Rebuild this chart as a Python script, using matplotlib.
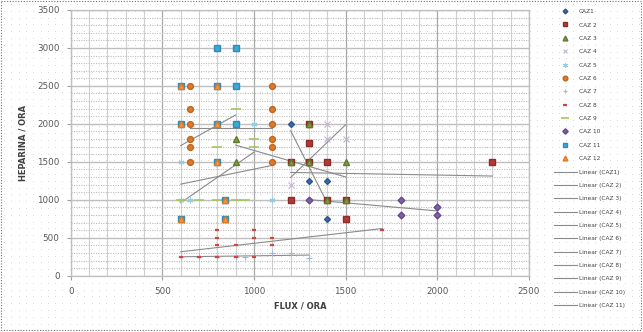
import matplotlib.pyplot as plt
import numpy as np
from matplotlib.patches import Rectangle

# FLUX / ORA vs HEPARINA / ORA for each CAZ
caz1_x = [1200, 1300, 1400, 1400]
caz1_y = [2000, 1250, 1250, 750]
caz2_x = [1200, 1200, 1300, 1300, 1300, 1400, 1400, 1500, 1500, 2300]
caz2_y = [1500, 1000, 2000, 1750, 1500, 1500, 1000, 1000, 750, 1500]
caz3_x = [900, 900, 1200, 1300, 1300, 1400, 1500, 1500]
caz3_y = [1800, 1500, 1500, 2000, 1500, 1000, 1500, 1000]
caz4_x = [1200, 1400, 1400, 1500]
caz4_y = [1200, 2000, 1800, 1800]
caz5_x = [600, 600, 650, 1000, 1100]
caz5_y = [1500, 1000, 1000, 2000, 1000]
caz6_x = [650, 650, 650, 650, 650, 650, 1100, 1100, 1100, 1100, 1100, 1100]
caz6_y = [2500, 2200, 2000, 1800, 1700, 1500, 2500, 2200, 2000, 1800, 1700, 1500]
caz7_x = [600, 700, 800, 900, 950, 1100, 1200, 1300]
caz7_y = [250, 250, 250, 250, 250, 300, 300, 230]
caz8_x = [600, 700, 800, 800, 800, 800, 900, 900, 1000, 1000, 1000, 1100, 1100, 1700]
caz8_y = [250, 250, 600, 500, 400, 250, 400, 250, 600, 500, 250, 500, 400, 600]
caz9_x = [600, 700, 800, 800, 900, 900, 950, 1000, 1000]
caz9_y = [1000, 1000, 1000, 1700, 2200, 1000, 1000, 1800, 1700]
caz10_x = [1300, 1800, 1800, 2000, 2000]
caz10_y = [1000, 1000, 800, 900, 800]
caz11_x = [600, 600, 600, 800, 800, 800, 800, 840, 840, 900, 900, 900]
caz11_y = [2500, 2000, 750, 3000, 2500, 2000, 1500, 1000, 750, 3000, 2500, 2000]
caz12_x = [600, 600, 600, 800, 800, 800, 840, 840]
caz12_y = [2500, 2000, 750, 2500, 2000, 1500, 1000, 750]

series = [
    ('CAZ1', caz1_x, caz1_y, dict(marker='D', ms=3.0, mfc='#3A6BAE', mec='#2C5488')),
    ('CAZ 2', caz2_x, caz2_y, dict(marker='s', ms=4.0, mfc='#B03A36', mec='#8E2B28')),
    ('CAZ 3', caz3_x, caz3_y, dict(marker='^', ms=4.3, mfc='#7F9F3F', mec='#5F7A2C')),
    ('CAZ 4', caz4_x, caz4_y, dict(marker='x', ms=3.8, mec='#C3B2D6', mew=0.8)),
    ('CAZ 5', caz5_x, caz5_y, dict(marker=(6, 2, 0), ms=4.2, mec='#8FD0E6', mew=0.8)),
    ('CAZ 6', caz6_x, caz6_y, dict(marker='o', ms=4.2, mfc='#E07A2A', mec='#C2661D')),
    ('CAZ 7', caz7_x, caz7_y, dict(marker='+', ms=4.0, mec='#9DB8DE', mew=0.8)),
    ('CAZ 8', caz8_x, caz8_y, dict(marker='_', ms=3.0, mec='#D0463F', mew=1.6)),
    ('CAZ 9', caz9_x, caz9_y, dict(marker='_', ms=6.5, mec='#A5C65E', mew=1.2)),
    ('CAZ 10', caz10_x, caz10_y, dict(marker='D', ms=3.4, mfc='#8064A2', mec='#64488A')),
    ('CAZ 11', caz11_x, caz11_y, dict(marker='s', ms=4.0, mfc='#3FA8D6', mec='#2E8DB8')),
    ('CAZ 12', caz12_x, caz12_y, dict(marker='^', ms=4.3, mfc='#F79646', mec='#E07A20')),
]

fig = plt.figure(figsize=(6.43, 3.32), dpi=100)
fig.patch.set_facecolor('white')

# dotted chart-area background and border
bg = fig.add_axes([0, 0, 1, 1], zorder=-5)
bg.set_xlim(0, 643)
bg.set_ylim(332, 0)
bg.axis('off')
gx, gy = np.meshgrid(np.arange(4, 643, 7.3), np.arange(4, 332, 6.8))
bg.scatter(gx.ravel(), gy.ravel(), s=0.25, c='#C4C4C4', linewidths=0)
bg.add_patch(Rectangle((1, 1), 640, 329, fill=False, ec='#707070', lw=0.8, ls=(0, (1, 1.5))))

ax = fig.add_axes([0.110, 0.1696, 0.7127, 0.8003])
ax.patch.set_alpha(0)

ax.set_xlim(0, 2500)
ax.set_ylim(0, 3500)
ax.set_xticks(np.arange(0, 2501, 500))
ax.set_yticks(np.arange(0, 3501, 500))
ax.set_xticks(np.arange(0, 2501, 100), minor=True)
ax.set_yticks(np.arange(0, 3501, 100), minor=True)
ax.grid(axis='x', which='minor', color='#CFCFCF', lw=0.8)
ax.grid(axis='x', which='major', color='#A8A8A8', lw=0.9)
ax.grid(axis='y', which='minor', color='#BDBDBD', lw=0.8, ls=(0, (1, 1.2)))
ax.grid(axis='y', which='major', color='#BFBFBF', lw=1.0)
ax.set_axisbelow(True)
ax.tick_params(which='minor', length=0)
ax.tick_params(which='major', length=3, color='#A0A0A0', labelsize=6.3, labelcolor='#595959', pad=5)
for s in ax.spines.values():
    s.set_color('#BFBFBF')
    s.set_linewidth(0.9)

ax.set_xlabel('FLUX / ORA', fontsize=6, fontweight='bold', color='#404040', labelpad=4)
ax.set_ylabel('HEPARINA / ORA', fontsize=6, fontweight='bold', color='#404040', labelpad=7)

handles, labels = [], []
for name, xs, ys, st in series:
    h, = ax.plot(xs, ys, ls='none', zorder=3, **st)
    handles.append(h)
    labels.append(name)

# linear trendlines for CAZ1..CAZ11
for name, xs, ys, st in series[:11]:
    xs = np.array(xs, float)
    ys = np.array(ys, float)
    k, b = np.polyfit(xs, ys, 1)
    xx = np.array([xs.min(), xs.max()])
    h, = ax.plot(xx, k * xx + b, color='#8A8A8A', lw=0.8, zorder=2)
    handles.append(h)
    labels.append('Linear (%s)' % name)

fig.legend(handles, labels, loc='upper left', bbox_to_anchor=(0.855, 0.985),
           frameon=False, fontsize=4.2, labelcolor='#404040', handlelength=3.9,
           handletextpad=0.4, labelspacing=1.42, borderpad=0.2, markerscale=0.8)

fig.savefig('out.png', dpi=100)
